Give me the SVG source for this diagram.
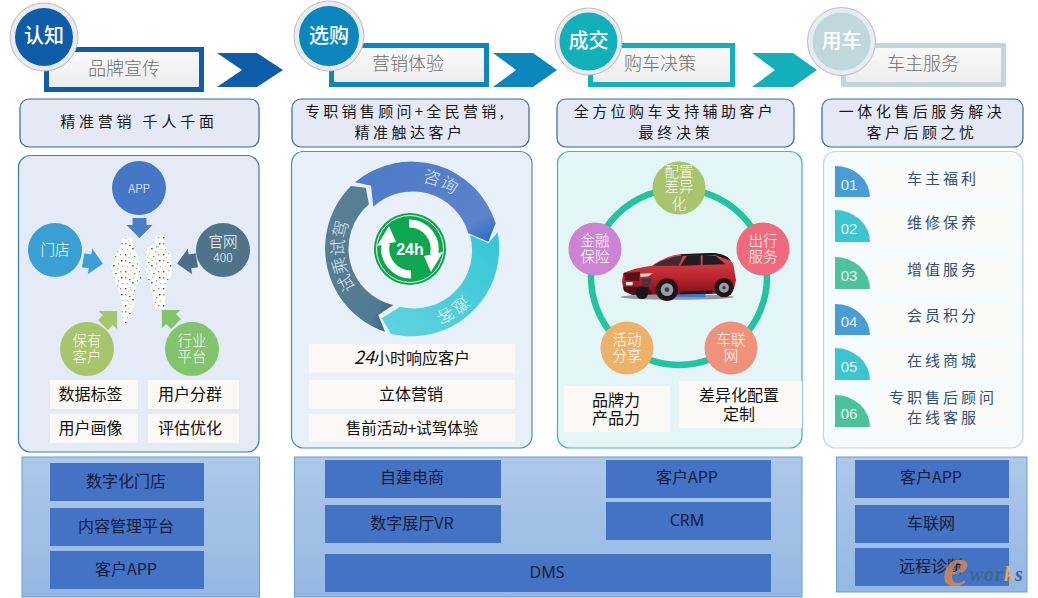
<svg xmlns="http://www.w3.org/2000/svg" width="1038" height="598" viewBox="0 0 1038 598">
<style>
text{font-family:"Noto Sans CJK SC","Noto Sans",sans-serif;text-anchor:middle}
.hd{font-size:18px;fill:#6f6f6f;font-weight:300}
.cir{font-size:20px;fill:#fff;font-weight:500}
.sub{font-size:15px;fill:#1a1a1a}
.w{font-size:14.5px;fill:#fff;font-weight:300}
.lb{font-size:16px;fill:#111}
.svc{font-size:15px;fill:#30507a;letter-spacing:3px}
.num{font-size:15px;fill:#fff;font-family:"Liberation Sans",sans-serif;opacity:.85}
.sys{font-size:16px;fill:#14203a}
.sub-box{fill:#e4e9f5;stroke:#2f6d96;stroke-width:1.2}
.cell{fill:#fbf9f5}
.box{fill:#4472c4}
.band{fill:url(#band);stroke:#6a9fcc;stroke-width:1}
.inner{fill:url(#inner)}
.ring{fill:#e6ecf3;stroke:#c9b9ae;stroke-width:1}
</style>
<defs>
<linearGradient id="band" x1="0" y1="0" x2="0" y2="1"><stop offset="0" stop-color="#adc8e9"/><stop offset="1" stop-color="#94b8e3"/></linearGradient>
<linearGradient id="inner" x1="0" y1="0" x2="0" y2="1"><stop offset="0" stop-color="#fafafa"/><stop offset="1" stop-color="#ececec"/></linearGradient>
<linearGradient id="gBlue" x1="0" y1="0" x2="1" y2="1"><stop offset="0" stop-color="#4d79c6"/><stop offset=".8" stop-color="#5c84cc"/><stop offset="1" stop-color="#2468bd"/></linearGradient>
<linearGradient id="gTeal" x1="1" y1="0" x2="0" y2="1"><stop offset="0" stop-color="#35c6d8"/><stop offset="1" stop-color="#62d3de"/></linearGradient>
<linearGradient id="gSlate" x1="0" y1="0" x2="1" y2="1"><stop offset="0" stop-color="#5b8096"/><stop offset=".8" stop-color="#527a90"/><stop offset="1" stop-color="#2a5f7a"/></linearGradient>
<linearGradient id="gCar" x1="0" y1="0" x2="0" y2="1"><stop offset="0" stop-color="#e0484e"/><stop offset=".55" stop-color="#bb2630"/><stop offset="1" stop-color="#7a1219"/></linearGradient>
<pattern id="speck" width="19" height="17" patternUnits="userSpaceOnUse" patternTransform="scale(3)">
<rect width="19" height="17" fill="#fbfcf8"/>
<rect x="1" y="1" width="1.4" height="1.4" fill="#d05fa0"/><rect x="5" y="3" width="1.6" height="1.2" fill="#3e9a4f"/><rect x="9" y="1" width="1.2" height="1.2" fill="#d9c24f"/><rect x="13" y="4" width="1.2" height="1.6" fill="#6ab7d8"/><rect x="16" y="1" width="1.4" height="1.4" fill="#2b3a2c"/>
<rect x="3" y="7" width="1.2" height="1.2" fill="#8fd0c0"/><rect x="8" y="6" width="1.8" height="1.4" fill="#2f8c3f"/><rect x="12" y="9" width="1.3" height="1.3" fill="#e08ac0"/><rect x="17" y="7" width="1.2" height="1.2" fill="#b9d25f"/>
<rect x="1" y="12" width="1.4" height="1.4" fill="#40505f"/><rect x="6" y="11" width="1.2" height="1.2" fill="#e0a7d0"/><rect x="10" y="14" width="1.4" height="1.2" fill="#4aa85a"/><rect x="15" y="12" width="1.3" height="1.3" fill="#c66aa8"/><rect x="4" y="15" width="1.2" height="1.2" fill="#c7d77a"/>
</pattern>
<polygon id="block" points="-7,-10 7,-10 7,-3 13,-3 0,10 -13,-3 -7,-3"/>
</defs>
<rect width="1038" height="598" fill="#fff"/>

<g id="connectors">
<polygon points="217,53 257,53 283,70 257,87 217,87 242,70" fill="#0f5ca8"/>
<polygon points="493,53 533,53 557,70 533,87 493,87 516,70" fill="#0d86bd"/>
<polygon points="752,53 793,53 817,70 793,87 752,87 775,70" fill="#13b0bb"/>
</g>

<g id="stage-1"><rect x="46.500" y="49.500" width="155" height="40" class="inner" stroke="#0f5ca8" stroke-width="5"/><text class="hd" x="124" y="75">品牌宣传</text><circle cx="44" cy="37" r="34" class="ring"/><circle cx="44" cy="37" r="29" fill="#0f5ca8"/><text class="cir" x="44" y="43">认知</text></g>
<g id="stage-2"><rect x="331.500" y="45.500" width="155" height="39" class="inner" stroke="#0d86bd" stroke-width="5"/><text class="hd" x="408" y="70">营销体验</text><circle cx="329" cy="36" r="35" class="ring"/><circle cx="329" cy="36" r="30" fill="#0d86bd"/><text class="cir" x="329" y="43">选购</text></g>
<g id="stage-3"><rect x="590.500" y="45.500" width="142" height="39" class="inner" stroke="#13b0bb" stroke-width="5"/><text class="hd" x="660" y="70">购车决策</text><circle cx="588.500" cy="41.500" r="33.500" class="ring"/><circle cx="588.500" cy="41.500" r="29" fill="#13b0bb"/><text class="cir" x="588.500" y="48">成交</text></g>
<g id="stage-4"><rect x="843.500" y="45.500" width="160" height="39" class="inner" stroke="#c0d8dc" stroke-width="5"/><text class="hd" x="923" y="70">车主服务</text><circle cx="841.500" cy="41.500" r="34" class="ring"/><circle cx="841.500" cy="41.500" r="29" fill="#c0d8dc"/><text class="cir" x="841.500" y="48">用车</text></g>

<g id="slogan-1"><rect x="20" y="99" width="239" height="48" rx="9" class="sub-box"/><text class="sub" x="139" y="127" style="letter-spacing:3.800px">精准营销 千人千面</text></g>
<g id="slogan-2"><rect x="292" y="99" width="237" height="48" rx="9" class="sub-box"/><text class="sub" x="406" y="117" style="letter-spacing:3.300px">专职销售顾问+全民营销,</text><text class="sub" x="410" y="138" style="letter-spacing:3.500px">精准触达客户</text></g>
<g id="slogan-3"><rect x="557" y="99" width="237" height="48" rx="9" class="sub-box"/><text class="sub" x="675" y="117" style="letter-spacing:3.400px">全方位购车支持辅助客户</text><text class="sub" x="676" y="138" style="letter-spacing:3.800px">最终决策</text></g>
<g id="slogan-4"><rect x="822" y="99" width="201" height="48" rx="9" class="sub-box"/><text class="sub" x="922" y="117" style="letter-spacing:3.500px">一体化售后服务解决</text><text class="sub" x="922" y="138" style="letter-spacing:3.500px">客户后顾之忧</text></g>

<g id="panel-1">
<rect x="18.500" y="155.500" width="240.500" height="296.500" rx="12" fill="#e4eaf6" stroke="#3b7ea8" stroke-width="1.200"/>
<g transform="translate(105,225) scale(.3333)" fill="url(#speck)">
<path d="M50,40 L80,40 L85,65 L105,110 L108,165 L90,185 L88,240 L65,295 L55,295 L45,210 L30,170 L18,130 L30,90 L50,60Z"/>
<path d="M150,30 L180,35 L178,60 L198,90 L200,150 L185,170 L178,250 L150,250 L142,200 L125,150 L120,130 L122,70 L150,55Z"/>
</g>
<use href="#block" transform="translate(139.500,228)" fill="#4a7cc8"/>
<use href="#block" transform="translate(93,262) rotate(-80)" fill="#3a9fd2"/>
<use href="#block" transform="translate(187,262) rotate(80)" fill="#4a7089"/>
<use href="#block" transform="translate(110,318) rotate(-135)" fill="#a8c46c"/>
<use href="#block" transform="translate(169,317) rotate(135)" fill="#82c46c"/>
<g id="ch-app"><circle cx="139" cy="188" r="27" fill="#4676c6"/><text class="w" x="139" y="193" style="font-size:12px">APP</text></g>
<g id="ch-store"><circle cx="55" cy="250" r="27" fill="#3a9fd2"/><text class="w" x="55" y="255">门店</text></g>
<g id="ch-web"><circle cx="223" cy="250" r="27" fill="#4f7489"/><text class="w" x="223" y="247">官网<tspan x="223" dy="15" style="font-size:12px">400</tspan></text></g>
<g id="ch-owner"><circle cx="87" cy="349" r="27" fill="#a8c46c"/><text class="w" x="87" y="346">保有<tspan x="87" dy="16">客户</tspan></text></g>
<g id="ch-industry"><circle cx="192" cy="349" r="27" fill="#82c46c"/><text class="w" x="192" y="346">行业<tspan x="192" dy="16">平台</tspan></text></g>
<rect class="cell" x="50" y="380" width="88" height="29"/><text class="lb" x="90.500" y="400">数据标签</text>
<rect class="cell" x="148" y="380" width="91" height="29"/><text class="lb" x="190" y="400">用户分群</text>
<rect class="cell" x="50" y="414" width="88" height="29"/><text class="lb" x="90.500" y="434">用户画像</text>
<rect class="cell" x="148" y="414" width="91" height="29"/><text class="lb" x="190" y="434">评估优化</text>
</g>

<g id="panel-2">
<rect x="291.500" y="151.500" width="240.500" height="296.500" rx="12" fill="#e8f0f9" stroke="#4a93b5" stroke-width="1.200"/>
<path fill="url(#gBlue)" d="M355,182.300 A88,88 0 0 1 495.700,223.300 L488.300,241.700 L468.300,233.300 A58,58 0 0 0 373.300,206.700 L371,185.700Z"/>
<path fill="url(#gTeal)" d="M497.700,232.300 A88,88 0 0 1 391,334 L381.700,318.300 L400,306.700 A58,58 0 0 0 470,235 L488.300,243.300Z"/>
<path fill="url(#gSlate)" d="M385,331.700 A88,88 0 0 1 351,186 L365.700,187.700 L369,204.300 A58,58 0 0 0 393.300,305 L378.300,315Z"/>
<defs>
<path id="arcA" d="M388.700,185.100 A68,68 0 0 1 474.100,221.300"/>
<path id="arcB" d="M374,305.400 A68,68 0 0 1 363.100,201.700"/>
<path id="arcC" d="M478.800,262 A68,68 0 0 1 399,315.800"/>
</defs>
<text class="w" style="font-size:17px;fill:#dfe8f6"><textPath href="#arcA" startOffset="50%">咨询</textPath></text>
<text class="w" style="font-size:17px;fill:#dfe8f0"><textPath href="#arcB" startOffset="50%">试乘试驾</textPath></text>
<text class="w" style="font-size:17px;fill:#e6f8fa"><textPath href="#arcC" startOffset="50%">邀客</textPath></text>
<circle cx="410" cy="249" r="36" fill="#0fa650"/><circle cx="410" cy="249" r="33.500" fill="none" stroke="#e9f6ee" stroke-width="1"/>
<g id="cycle-arrow" fill="#fff">
<path d="M409,223.500 A25.500,25.500 0 0 1 434,255" fill="none" stroke="#fff" stroke-width="8"/>
<polygon points="424,256 443,252 431,272"/>
<g transform="rotate(180 410 249)"><path d="M409,223.500 A25.500,25.500 0 0 1 434,255" fill="none" stroke="#fff" stroke-width="8"/><polygon points="424,256 443,252 431,272"/></g>
</g>
<text x="410" y="255" style="font-family:'Liberation Sans',sans-serif;font-size:16px;font-weight:700;fill:#fff">24h</text>
<rect class="cell" x="309" y="344" width="206" height="29"/><text class="lb" x="412" y="364"><tspan style="font-style:italic;font-size:18px">24</tspan>小时响应客户</text>
<rect class="cell" x="309" y="380" width="206" height="29"/><text class="lb" x="411" y="400">立体营销</text>
<rect class="cell" x="309" y="414" width="206" height="28"/><text class="lb" x="412" y="434" style="font-size:15.5px">售前活动+试驾体验</text>
</g>

<g id="panel-3">
<rect x="557.500" y="151.500" width="244.500" height="296.500" rx="12" fill="#e3f5f6" stroke="#3fb3bd" stroke-width="1.200"/>
<circle cx="679" cy="277" r="88" fill="none" stroke="#22c3a0" stroke-width="6.500"/>
<g id="option-1"><circle cx="679" cy="188" r="26.500" fill="#a8c46c"/><text class="w" x="679" y="177">配置<tspan x="679" dy="15">差异</tspan><tspan x="679" dy="17">化</tspan></text></g>
<g id="option-2"><circle cx="763" cy="249" r="26.500" fill="#ef6a7c"/><text class="w" x="763" y="246">出行<tspan x="763" dy="16">服务</tspan></text></g>
<g id="option-3"><circle cx="731" cy="348" r="26.500" fill="#f0917a"/><text class="w" x="731" y="345">车联<tspan x="731" dy="16">网</tspan></text></g>
<g id="option-4"><circle cx="627" cy="348" r="26.500" fill="#ecb26c"/><text class="w" x="627" y="345">活动<tspan x="627" dy="16">分享</tspan></text></g>
<g id="option-5"><circle cx="595" cy="249" r="26.500" fill="#cd83d4"/><text class="w" x="595" y="246">金融<tspan x="595" dy="16">保险</tspan></text></g>
<g id="car" transform="translate(612,245) scale(.3333)">
<ellipse cx="195" cy="156" rx="170" ry="8" fill="#3a3f45" opacity=".5"/>
<path d="M180,146 H280 V156 H180Z" fill="#2f7fd8"/>
<path d="M34,84 Q70,68 120,62 Q165,30 210,27 L300,25 Q345,27 364,58 L372,105 L366,132 L320,146 L60,150 L36,138 L30,110Z" fill="url(#gCar)"/>
<path d="M122,62 Q168,36 214,31 L200,62Z" fill="#3f2c33"/>
<path d="M205,62 L225,32 L266,30 L266,60Z" fill="#221c22"/><path d="M272,30 L312,33 L340,58 L272,60Z" fill="#221c22"/>
<path d="M205,28 L300,24 Q345,26 358,48 L310,30 L210,32Z" fill="#15151a"/>
<path d="M36,84 L84,80 L82,108 L40,106Z" fill="#5a1015"/><path d="M84,86 L122,84 L110,94 L86,96Z" fill="#f0d8d0"/>
<rect x="42" y="111" width="20" height="10" fill="#e8e8e8"/>
<path d="M88,102 L118,100 L114,122 L94,122Z" fill="#3a3a42"/>
<path d="M60,148 L36,138 L34,125 L110,125 L120,148Z" fill="#4a1216"/>
<path d="M205,140 L300,136 L300,146 L205,148Z" fill="#3a1418"/>
<circle cx="90" cy="143" r="19" fill="#17171a"/>
<circle cx="165" cy="134" r="34" fill="#3c1014"/><circle cx="165" cy="134" r="29" fill="#17171a"/><circle cx="165" cy="134" r="19" fill="#9a9ca2"/><circle cx="165" cy="134" r="7" fill="#3a3a40"/>
<circle cx="336" cy="128" r="29" fill="#3c1014"/><circle cx="336" cy="128" r="24" fill="#17171a"/><circle cx="336" cy="128" r="15" fill="#9a9ca2"/><circle cx="336" cy="128" r="5" fill="#3a3a40"/>
</g>
<rect class="cell" x="564" y="386" width="106" height="46"/><text class="lb" x="616" y="406">品牌力<tspan x="616" dy="18">产品力</tspan></text>
<rect class="cell" x="679" y="381" width="123" height="47"/><text class="lb" x="739" y="401">差异化配置<tspan x="739" dy="19">定制</tspan></text>
</g>

<g id="panel-4">
<rect x="823.500" y="151.500" width="199.500" height="296.500" rx="12" fill="#f6fbfd" stroke="#c0d4e2" stroke-width="1.200"/>
<g fill="#fafaf8"><rect x="875" y="166" width="135" height="31"/><rect x="875" y="210" width="135" height="32"/><rect x="875" y="257" width="135" height="32"/><rect x="875" y="304" width="135" height="31"/><rect x="875" y="348" width="135" height="32"/><rect x="875" y="390" width="135" height="37"/></g>
<g id="svc-1"><path d="M835,197V166A35,31 0 0 1 870,197Z" fill="#4a9cd6"/><text class="num" x="849" y="190">01</text><text class="svc" x="943" y="184">车主福利</text></g>
<g id="svc-2"><path d="M835,242V210A35,32 0 0 1 870,242Z" fill="#3cc4cf"/><text class="num" x="849" y="234">02</text><text class="svc" x="943" y="228">维修保养</text></g>
<g id="svc-3"><path d="M835,289V257A35,32 0 0 1 870,289Z" fill="#4cc29a"/><text class="num" x="849" y="281">03</text><text class="svc" x="943" y="275">增值服务</text></g>
<g id="svc-4"><path d="M835,335V304A35,31 0 0 1 870,335Z" fill="#4a9cd6"/><text class="num" x="849" y="327">04</text><text class="svc" x="943" y="321">会员积分</text></g>
<g id="svc-5"><path d="M835,380V348A35,32 0 0 1 870,380Z" fill="#3cc4cf"/><text class="num" x="849" y="372">05</text><text class="svc" x="943" y="366">在线商城</text></g>
<g id="svc-6"><path d="M835,427V395A35,32 0 0 1 870,427Z" fill="#4cc29a"/><text class="num" x="849" y="419">06</text><text class="svc" x="943" y="403">专职售后顾问<tspan x="943" dy="20">在线客服</tspan></text></g>
</g>

<g id="systems-1"><rect x="22" y="457" width="237.500" height="140" class="band"/>
<rect class="box" x="50" y="463" width="154" height="38"/><text class="sys" x="126" y="487">数字化门店</text>
<rect class="box" x="50" y="508" width="154" height="38"/><text class="sys" x="126" y="532">内容管理平台</text>
<rect class="box" x="50" y="551" width="154" height="38"/><text class="sys" x="126" y="575">客户APP</text></g>
<g id="systems-2"><rect x="294.500" y="457" width="507.500" height="140" class="band"/>
<rect class="box" x="325" y="460" width="176" height="38"/><text class="sys" x="412" y="483">自建电商</text>
<rect class="box" x="325" y="505" width="176" height="38"/><text class="sys" x="412" y="529">数字展厅VR</text>
<rect class="box" x="606" y="460" width="165" height="38"/><text class="sys" x="687" y="483">客户APP</text>
<rect class="box" x="606" y="502" width="165" height="38"/><text class="sys" x="687" y="526" style="font-family:'Noto Sans',sans-serif">CRM</text>
<rect class="box" x="325" y="554" width="446" height="38"/><text class="sys" x="547" y="578" style="font-family:'Noto Sans',sans-serif">DMS</text></g>
<g id="systems-3"><rect x="836.500" y="457" width="190.500" height="135" class="band"/>
<rect class="box" x="855" y="460" width="154" height="38"/><text class="sys" x="931" y="483">客户APP</text>
<rect class="box" x="855" y="505" width="154" height="38"/><text class="sys" x="931" y="529">车联网</text>
<rect class="box" x="855" y="548" width="154" height="38"/><text class="sys" x="931" y="572">远程诊断</text></g>

<g id="watermark"><text x="943" y="586" style="text-anchor:start;font-family:'Liberation Serif',serif;font-weight:700;font-style:italic;fill:#3f6788;font-size:20px;letter-spacing:1px"><tspan style="font-size:58px;fill:#e08a50;fill-opacity:.8">e</tspan><tspan dy="-5">wor</tspan><tspan style="fill:#e8a860">k</tspan>s</text></g>
</svg>
